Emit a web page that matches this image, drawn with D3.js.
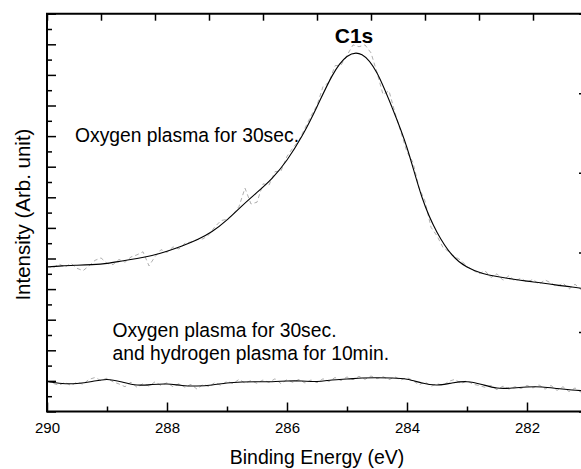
<!DOCTYPE html>
<html>
<head>
<meta charset="utf-8">
<script src="https://cdn.jsdelivr.net/npm/d3@7"></script>
<style>
  html, body { margin: 0; padding: 0; background: #fff; }
  svg { display: block; font-family: "Liberation Sans", Arial, sans-serif; }
</style>
</head>
<body>
<svg id="chart" width="581" height="469"></svg>
<script>
// ---- data ----
// fitted curves (energy in eV, intensity in arbitrary units)
const fitEnergy = [290.00,289.75,289.50,289.25,289.00,288.75,288.50,288.25,288.00,287.75,287.50,287.25,287.00,286.75,286.50,286.25,286.00,285.75,285.50,285.25,285.00,284.75,284.50,284.25,284.00,283.75,283.50,283.25,283.00,282.75,282.50,282.25,282.00,281.75,281.50,281.25,281.00];
const fitOxygen = [4.72,4.76,4.78,4.80,4.84,4.92,5.00,5.10,5.24,5.41,5.61,5.88,6.26,6.72,7.16,7.62,8.22,9.00,9.96,10.96,11.60,11.66,11.06,9.94,8.62,7.00,5.86,5.12,4.72,4.52,4.41,4.33,4.26,4.20,4.13,4.07,4.00];
const fitOxyHyd = [0.980,0.915,0.915,0.980,1.046,0.964,0.866,0.882,0.899,0.850,0.833,0.866,0.931,0.964,0.974,0.974,0.997,0.997,0.980,1.029,1.062,1.095,1.105,1.095,1.052,0.931,0.866,0.931,0.974,0.882,0.768,0.768,0.801,0.801,0.752,0.703,0.670];

// raw measured data, 0.1 eV steps from 290.0 to 281.0
const rawEnergy = d3.range(0, 91).map(i => +(290 - i * 0.1).toFixed(1));
const rawOxygen = [4.75,4.69,4.82,4.72,4.84,4.68,4.60,4.76,4.94,5.02,
  4.84,4.80,4.97,4.88,5.05,5.12,5.22,4.76,5.06,5.29,
  5.20,5.38,5.31,5.50,5.54,5.62,5.64,5.78,6.04,6.24,
  6.28,6.44,6.70,7.30,6.78,6.84,7.44,7.40,7.84,7.86,
  8.34,8.62,8.86,9.26,9.66,10.00,10.62,10.76,11.30,11.32,
  11.64,11.98,11.92,11.98,11.72,11.08,10.36,10.48,9.76,9.12,
  8.48,8.14,7.32,6.88,6.02,5.74,5.36,5.22,5.06,4.94,
  4.74,4.62,4.50,4.60,4.38,4.50,4.29,4.44,4.26,4.36,
  4.22,4.32,4.16,4.30,4.20,4.08,4.20,4.00,4.16,3.98,4.06];
const rawOxyHyd = [1.00,0.92,0.86,0.95,0.85,0.96,0.89,1.05,1.11,1.01,
  1.09,0.97,0.90,0.81,0.96,0.79,0.91,0.83,0.97,0.85,
  0.94,0.81,0.91,0.79,0.89,0.73,0.89,0.81,0.95,0.85,
  0.99,0.91,1.05,0.93,1.01,0.92,1.03,0.95,1.07,0.91,
  1.04,0.95,1.05,0.93,1.03,0.94,1.07,0.98,1.11,1.01,
  1.13,1.04,1.15,1.05,1.16,1.07,1.14,1.04,1.13,1.03,
  1.11,1.01,0.87,0.97,0.82,0.91,0.85,0.99,1.05,0.91,
  1.01,0.89,0.85,0.79,0.85,0.71,0.83,0.73,0.81,0.75,
  0.85,0.77,0.87,0.73,0.85,0.69,0.81,0.65,0.77,0.63,0.71];

const xMajorTicks = [290, 288, 286, 284, 282];
const xMinorTicks = [289, 287, 285, 283, 281];
const xTitle = "Binding Energy (eV)";
const yTitle = "Intensity (Arb. unit)";
const peakLabel = "C1s";
const label1 = ["Oxygen plasma for 30sec."];
const label2 = ["Oxygen plasma for 30sec.", "and hydrogen plasma for 10min."];

// ---- layout ----
const svg = d3.select("#chart");
const L = 47, R = 587, T = 13.7, B = 411.5;

const x = d3.scaleLinear().domain([290, 281]).range([L, R]);
const y = d3.scaleLinear().domain([0, 13]).range([B, T]);
const xTop = d3.scaleLinear().domain([0, 10]).range([L, R]);
const yRight = d3.scaleLinear().domain([0, 5]).range([B, T]);

const g = svg.append("g");

// raw data (dashed gray)
const rawLine = d3.line().x(d => x(d[0])).y(d => y(d[1]));
[rawOxygen, rawOxyHyd].forEach(arr => {
  g.append("path")
    .datum(rawEnergy.map((e, i) => [e, arr[i]]))
    .attr("d", rawLine)
    .attr("fill", "none")
    .attr("stroke", "#b0b0b0")
    .attr("stroke-width", 1)
    .attr("stroke-dasharray", "4,3");
});

// fitted curves (solid black)
const fitLine = d3.line().curve(d3.curveNatural).x(d => x(d[0])).y(d => y(d[1]));
[fitOxygen, fitOxyHyd].forEach(arr => {
  g.append("path")
    .datum(fitEnergy.map((e, i) => [e, arr[i]]))
    .attr("d", fitLine)
    .attr("fill", "none")
    .attr("stroke", "#000")
    .attr("stroke-width", 1.1);
});

// ---- axes ----
// bottom axis
const bottom = d3.axisBottom(x).tickValues(xMajorTicks).tickSize(-9).tickFormat(d3.format("d"));
const gb = svg.append("g").attr("transform", `translate(0,${B})`).call(bottom);
gb.select(".domain").remove();
gb.selectAll(".tick line").attr("stroke-width", 1.5);
gb.selectAll(".tick text").attr("font-size", 15).attr("font-family", "Liberation Sans, Arial, sans-serif").attr("fill", "#000").attr("dy", 0).attr("y", 21.5);
const gbm = svg.append("g").attr("transform", `translate(0,${B})`)
  .call(d3.axisBottom(x).tickValues(xMinorTicks).tickSize(-5).tickFormat(""));
gbm.select(".domain").remove();
gbm.selectAll(".tick line").attr("stroke-width", 1.5);

// top axis
const gt = svg.append("g").attr("transform", `translate(0,${T})`)
  .call(d3.axisTop(xTop).ticks(10).tickSize(-7).tickFormat(""));
gt.select(".domain").remove();
gt.selectAll(".tick line").attr("stroke-width", 1.5);

// left axis
const gl = svg.append("g").attr("transform", `translate(${L},0)`)
  .call(d3.axisLeft(y).tickValues(d3.range(0, 14, 1)).tickSize(-9).tickFormat(""));
gl.select(".domain").remove();
gl.selectAll(".tick line").attr("stroke-width", 1.5);
const glm = svg.append("g").attr("transform", `translate(${L},0)`)
  .call(d3.axisLeft(y).tickValues(d3.range(0.5, 13, 1)).tickSize(-5).tickFormat(""));
glm.select(".domain").remove();
glm.selectAll(".tick line").attr("stroke-width", 1.5);

// right axis
const gr = svg.append("g").attr("transform", `translate(${R},0)`)
  .call(d3.axisRight(yRight).ticks(5).tickSize(-8).tickFormat(""));
gr.select(".domain").remove();
gr.selectAll(".tick line").attr("stroke-width", 1.5);

// frame
svg.append("path")
  .attr("d", `M${L},${T}H${R}V${B}H${L}Z`)
  .attr("fill", "none").attr("stroke", "#000").attr("stroke-width", 2);

// ---- titles & labels ----
svg.append("text")
  .attr("x", (L + R) / 2).attr("y", 464)
  .attr("text-anchor", "middle").attr("font-size", 19.5).attr("fill", "#000")
  .text(xTitle);

svg.append("text")
  .attr("transform", `translate(30,${(T + B) / 2 + 2}) rotate(-90)`)
  .attr("text-anchor", "middle").attr("font-size", 20.5).attr("fill", "#000")
  .text(yTitle);

svg.append("text")
  .attr("x", 354).attr("y", 42.5)
  .attr("text-anchor", "middle").attr("font-size", 21).attr("font-weight", "bold").attr("fill", "#000")
  .text(peakLabel);

label1.forEach((t, i) => {
  svg.append("text").attr("x", 75).attr("y", 141.5 + i * 22.5)
    .attr("font-size", 19.3).attr("fill", "#000").text(t);
});
label2.forEach((t, i) => {
  svg.append("text").attr("x", 112.5).attr("y", 337 + i * 22.5)
    .attr("font-size", 19.3).attr("fill", "#000").text(t);
});
</script>
</body>
</html>
